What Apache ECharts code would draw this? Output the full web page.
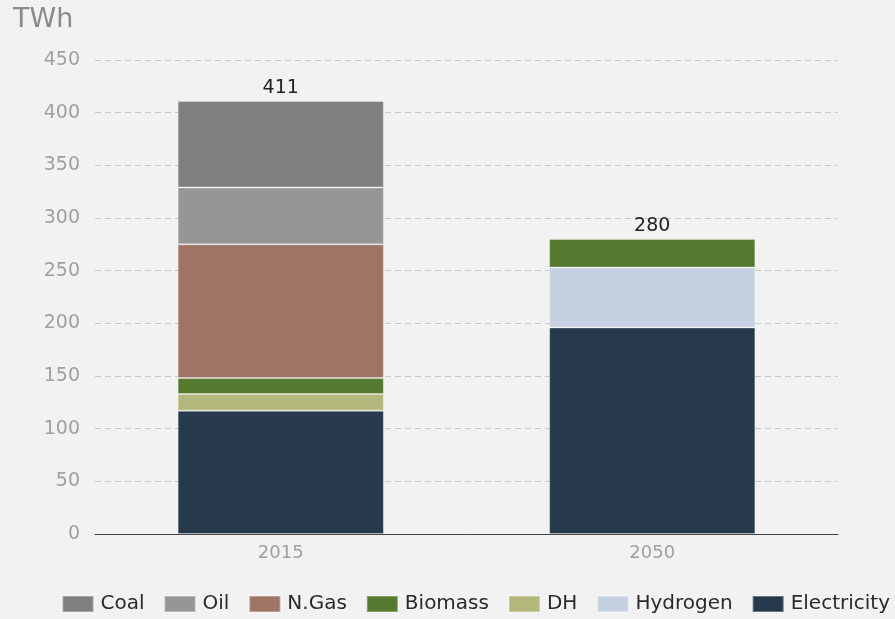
<!DOCTYPE html>
<html>
<head>
<meta charset="utf-8">
<script src="https://cdn.jsdelivr.net/npm/echarts@6/dist/echarts.min.js"></script>
<style>
  html, body { margin: 0; padding: 0; background: #f2f2f2; }
  #main { width: 895px; height: 619px; }
</style>
</head>
<body>
<div id="main"></div>
<script>
var years = ['2015', '2050'];
// 自下而上的堆叠顺序
var electricity = [117, 196];
var hydrogen = [0, 57];
var dh = [16, 0];
var biomass = [15, 27];
var ngas = [127, 0];
var oil = [54, 0];
var coal = [82, 0];
var totals = [411, 280];

var legendOrder = ['Coal', 'Oil', 'N.Gas', 'Biomass', 'DH', 'Hydrogen', 'Electricity'];

var font = 'DejaVu Sans';

function stackBar(name, data, color) {
  return {
    name: name,
    type: 'bar',
    stack: 'total',
    barWidth: '55.5%',
    data: data.map(function (v) { return v === 0 ? '-' : v; }),
    itemStyle: {
      color: color,
      borderColor: 'rgba(255,255,255,0.3)',
      borderWidth: 1
    }
  };
}

var chart = echarts.init(document.getElementById('main'));
var option = {
  backgroundColor: '#f2f2f2',
  animation: false,
  textStyle: { fontFamily: font },
  title: {
    text: 'TWh',
    left: 8,
    top: 1,
    textStyle: { fontFamily: font, fontSize: 27, fontWeight: 'normal', color: '#8a8a8a' }
  },
  legend: {
    data: legendOrder,
    icon: 'rect',
    bottom: 0,
    right: 0,
    itemWidth: 31,
    itemHeight: 16,
    itemGap: 19,
    textStyle: { fontFamily: font, fontSize: 20, color: '#2a2a2a', padding: [0, 0, 0, 2] }
  },
  grid: {
    left: 95,
    right: 57,
    top: 60,
    bottom: 85
  },
  xAxis: {
    type: 'category',
    data: years,
    axisTick: { show: false },
    axisLine: { lineStyle: { color: '#444', width: 1 } },
    axisLabel: { fontFamily: font, fontSize: 18, color: '#a0a0a0', margin: 10 }
  },
  yAxis: {
    type: 'value',
    min: 0,
    max: 450,
    interval: 50,
    axisLabel: { fontFamily: font, fontSize: 19, color: '#a0a0a0', margin: 15 },
    splitLine: { lineStyle: { color: '#c8c8c8', type: [6, 4] } }
  },
  series: [
    stackBar('Electricity', electricity, '#263a4b'),
    stackBar('Hydrogen', hydrogen, '#c5d0e1'),
    stackBar('DH', dh, '#b3b77c'),
    stackBar('Biomass', biomass, '#557a2f'),
    stackBar('N.Gas', ngas, '#9e7465'),
    stackBar('Oil', oil, '#969696'),
    stackBar('Coal', coal, '#808080'),
    {
      name: 'Total',
      type: 'bar',
      stack: 'total',
      barWidth: '55.5%',
      data: totals.map(function () { return 0; }),
      itemStyle: { color: 'transparent' },
      label: {
        show: true,
        position: 'top',
        distance: 4,
        fontFamily: font,
        fontSize: 19,
        color: '#222',
        formatter: function (p) { return totals[p.dataIndex]; }
      }
    }
  ]
};
chart.setOption(option);
</script>
</body>
</html>
